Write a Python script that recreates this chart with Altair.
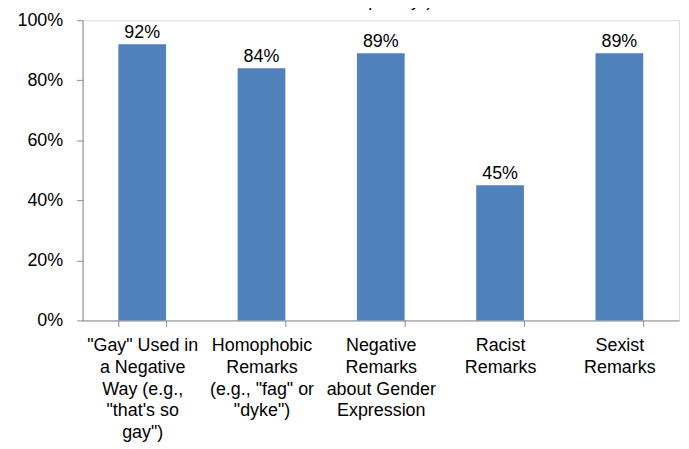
import altair as alt
import pandas as pd

categories = [
    "\"Gay\" Used in\na Negative\nWay (e.g.,\n\"that's so\ngay\")",
    "Homophobic\nRemarks\n(e.g., \"fag\" or\n\"dyke\")",
    "Negative\nRemarks\nabout Gender\nExpression",
    "Racist\nRemarks",
    "Sexist\nRemarks",
]
values = [0.92, 0.84, 0.89, 0.45, 0.89]
value_labels = ["92%", "84%", "89%", "45%", "89%"]
title_tail = "frequently\")"

df = pd.DataFrame({"cat": categories, "val": values, "lbl": value_labels})

FONT = "Liberation Sans"
GRAY = "#898989"

x = alt.X(
    "cat:N",
    sort=categories,
    title=None,
    scale=alt.Scale(paddingInner=0.6, paddingOuter=0.3),
    axis=alt.Axis(
        labelAngle=0,
        labelExpr="split(datum.label, '\\n')",
        labelLineHeight=22,
        labelFontSize=18,
        labelFont=FONT,
        labelColor="#000000",
        labelPadding=10,
        labelBaseline="top",
        tickBand="extent",
        tickSize=6,
        tickColor=GRAY,
        domainColor=GRAY,
        labelLimit=0,
    ),
)
y = alt.Y(
    "val:Q",
    title=None,
    scale=alt.Scale(domain=[0, 1]),
    axis=alt.Axis(
        format=".0%",
        values=[0, 0.2, 0.4, 0.6, 0.8, 1.0],
        grid=False,
        labelFontSize=18,
        labelFont=FONT,
        labelColor="#000000",
        labelPadding=14,
        tickSize=6,
        tickColor=GRAY,
        domainColor=GRAY,
    ),
)

bars = alt.Chart(df).mark_bar(color="#4F81BD").encode(x=x, y=y)
labels = alt.Chart(df).mark_text(
    baseline="bottom", dy=-2, fontSize=18, font=FONT, color="#000000"
).encode(x=alt.X("cat:N", sort=categories), y="val:Q", text="lbl:N")

title_df = pd.DataFrame({"t": [title_tail]})
title = alt.Chart(title_df).mark_text(
    baseline="alphabetic", fontSize=18, font=FONT, color="#000000"
).encode(text="t:N", x=alt.value(306), y=alt.value(-14))

chart = alt.layer(bars, labels, title).properties(
    width=600,
    height=302,
    autosize=alt.AutoSizeParams(type="none"),
    padding={"left": 75, "top": 11, "right": 2, "bottom": 128},
).configure_view(stroke=None).configure(background="white")

chart.save("out.html", embed_options={"renderer": "svg", "actions": False})
